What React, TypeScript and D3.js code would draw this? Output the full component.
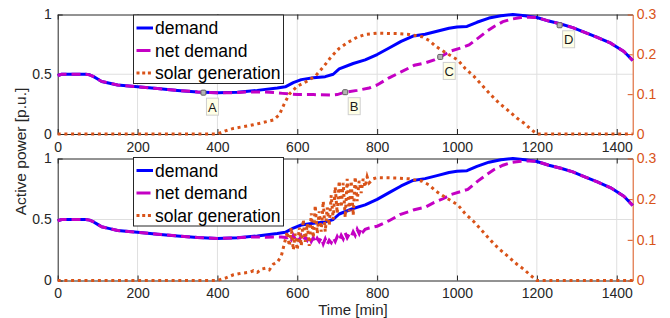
import React, { useRef, useEffect } from 'react';
import * as d3 from 'd3';

const WIDTH = 670;
const HEIGHT = 318;

const BLUE = '#0000FF';
const MAGENTA = '#C400C4';
const ORANGE = '#D95319';
const AXIS_COLOR = '#262626';
const GRID_COLOR = '#DFDFDF';
const FONT = "'Liberation Sans', Arial, Helvetica, sans-serif";

// demand (p.u.), identical in both panels
const demandTime = [0, 10, 20, 70, 80, 90, 100, 110, 130, 150, 200, 250, 300, 350, 400, 450, 500, 550, 570, 590, 610, 640, 670, 690, 705, 740, 770, 800, 830, 860, 890, 920, 950, 980, 1000, 1025, 1050, 1080, 1110, 1140, 1170, 1200, 1230, 1260, 1290, 1320, 1350, 1385, 1418, 1440];
const demandValue = [0.49, 0.5, 0.5, 0.5, 0.495, 0.48, 0.46, 0.44, 0.425, 0.41, 0.395, 0.38, 0.365, 0.352, 0.345, 0.35, 0.365, 0.385, 0.395, 0.43, 0.455, 0.47, 0.48, 0.5, 0.545, 0.59, 0.62, 0.665, 0.72, 0.775, 0.82, 0.835, 0.86, 0.885, 0.895, 0.9, 0.935, 0.97, 0.99, 1.0, 0.99, 0.975, 0.945, 0.92, 0.89, 0.85, 0.81, 0.76, 0.69, 0.615];

// top panel: net demand and smooth solar
const netTopTime = [0, 10, 20, 70, 80, 90, 100, 110, 130, 150, 200, 250, 300, 350, 400, 440, 480, 530, 563, 600, 640, 685, 700, 720, 750, 780, 800, 830, 860, 893, 920, 943, 958, 985, 1010, 1030, 1052, 1075, 1093, 1115, 1135, 1160, 1180, 1200, 1230, 1260, 1290, 1320, 1350, 1385, 1418, 1440];
const netTopValue = [0.49, 0.5, 0.5, 0.5, 0.495, 0.48, 0.46, 0.44, 0.425, 0.41, 0.395, 0.38, 0.365, 0.352, 0.345, 0.345, 0.352, 0.35, 0.34, 0.33, 0.33, 0.326, 0.33, 0.35, 0.365, 0.385, 0.41, 0.47, 0.52, 0.575, 0.595, 0.62, 0.645, 0.695, 0.72, 0.745, 0.8, 0.86, 0.9, 0.94, 0.96, 0.975, 0.978, 0.975, 0.945, 0.92, 0.89, 0.85, 0.81, 0.76, 0.69, 0.615];

const solarTopTime = [0, 400, 420, 440, 490, 540, 555, 567, 580, 600, 620, 645, 665, 685, 705, 727, 750, 770, 800, 850, 880, 913, 930, 947, 970, 1002, 1020, 1043, 1065, 1085, 1105, 1127, 1150, 1168, 1185, 1200, 1440];
const solarTopValue = [0, 0, 0.008, 0.014, 0.023, 0.035, 0.048, 0.075, 0.1, 0.12, 0.13, 0.145, 0.168, 0.194, 0.215, 0.23, 0.243, 0.25, 0.253, 0.252, 0.25, 0.244, 0.235, 0.22, 0.205, 0.186, 0.165, 0.144, 0.12, 0.098, 0.078, 0.06, 0.04, 0.027, 0.012, 0, 0];

// bottom panel: fluctuating solar around midday
const netBotTime = [0, 10, 20, 70, 80, 90, 100, 110, 130, 150, 200, 250, 300, 350, 400, 450, 480, 520, 560, 575, 580, 585, 590, 595, 600, 605, 610, 615, 620, 625, 630, 635, 640, 645, 650, 655, 660, 665, 670, 675, 680, 685, 690, 695, 700, 705, 710, 715, 720, 725, 730, 735, 740, 745, 750, 755, 760, 765, 770, 780, 800, 830, 857, 893, 920, 943, 965, 985, 1010, 1027, 1052, 1075, 1093, 1115, 1135, 1160, 1180, 1200, 1230, 1260, 1290, 1320, 1350, 1385, 1418, 1440];
const netBotValue = [0.49, 0.5, 0.5, 0.5, 0.495, 0.48, 0.46, 0.44, 0.425, 0.41, 0.395, 0.38, 0.365, 0.352, 0.345, 0.35, 0.357, 0.355, 0.357, 0.35, 0.36, 0.335, 0.37, 0.34, 0.36, 0.33, 0.365, 0.325, 0.355, 0.33, 0.36, 0.32, 0.35, 0.31, 0.345, 0.32, 0.35, 0.3, 0.34, 0.295, 0.33, 0.31, 0.35, 0.32, 0.36, 0.33, 0.37, 0.34, 0.39, 0.35, 0.38, 0.36, 0.4, 0.37, 0.42, 0.385, 0.43, 0.4, 0.42, 0.43, 0.445, 0.49, 0.54, 0.58, 0.6, 0.64, 0.67, 0.705, 0.73, 0.747, 0.815, 0.87, 0.91, 0.945, 0.967, 0.978, 0.98, 0.977, 0.945, 0.92, 0.89, 0.85, 0.81, 0.76, 0.69, 0.615];

const solarBotTime = [0, 400, 420, 440, 460, 480, 490, 500, 510, 520, 530, 540, 550, 560, 570, 575, 580, 585, 590, 595, 600, 605, 610, 615, 620, 625, 630, 635, 640, 645, 650, 655, 660, 665, 670, 675, 680, 685, 690, 695, 700, 705, 710, 715, 720, 725, 730, 735, 740, 745, 750, 755, 760, 765, 770, 775, 780, 790, 800, 850, 880, 913, 930, 947, 970, 1002, 1020, 1043, 1065, 1085, 1105, 1127, 1150, 1168, 1185, 1200, 1440];
const solarBotValue = [0, 0, 0.006, 0.014, 0.018, 0.02, 0.024, 0.02, 0.028, 0.03, 0.026, 0.04, 0.045, 0.06, 0.1, 0.12, 0.085, 0.13, 0.075, 0.115, 0.075, 0.13, 0.085, 0.15, 0.095, 0.14, 0.085, 0.165, 0.105, 0.185, 0.115, 0.17, 0.12, 0.195, 0.12, 0.18, 0.135, 0.21, 0.15, 0.23, 0.165, 0.245, 0.18, 0.24, 0.155, 0.25, 0.17, 0.245, 0.16, 0.255, 0.195, 0.245, 0.215, 0.25, 0.23, 0.255, 0.24, 0.25, 0.253, 0.252, 0.25, 0.244, 0.235, 0.22, 0.205, 0.186, 0.165, 0.144, 0.12, 0.098, 0.078, 0.06, 0.04, 0.027, 0.012, 0, 0];

const X_TICKS = [0, 200, 400, 600, 800, 1000, 1200, 1400];
const LEFT_TICKS = [0, 0.5, 1];
const RIGHT_TICKS = [0, 0.1, 0.2, 0.3];
const LEGEND_LABELS = ['demand', 'net demand', 'solar generation'];

// data tips in top panel
const TIP_LABELS = ['A', 'B', 'C', 'D'];
const TIP_TIME = [365, 720, 958, 1257];
const TIP_VALUE = [0.346, 0.35, 0.645, 0.91];

interface Panel {
  top: number;
  bottom: number;
  legendTop: number;
  netTime: number[];
  netValue: number[];
  solarTime: number[];
  solarValue: number[];
  tips: boolean;
}

const panels: Panel[] = [
  { top: 14.5, bottom: 134, legendTop: 15, netTime: netTopTime, netValue: netTopValue, solarTime: solarTopTime, solarValue: solarTopValue, tips: true },
  { top: 158.5, bottom: 280.5, legendTop: 157.5, netTime: netBotTime, netValue: netBotValue, solarTime: solarBotTime, solarValue: solarBotValue, tips: false }
];

const App: React.FC = () => {
  const svgRef = useRef<SVGSVGElement>(null);

  useEffect(() => {
    if (!svgRef.current) return;
    const svg = d3.select(svgRef.current);
    svg.selectAll('*').remove();

    const xScale = d3.scaleLinear().domain([0, 1440]).range([57.7, 632.7]);

    panels.forEach(p => {
      const y = d3.scaleLinear().domain([0, 1]).range([p.bottom, p.top]);
      const yR = d3.scaleLinear().domain([0, 0.3]).range([p.bottom, p.top]);
      const g = svg.append('g');

      // grid
      X_TICKS.slice(1).forEach(t => {
        g.append('line')
          .attr('x1', xScale(t)).attr('x2', xScale(t))
          .attr('y1', p.top).attr('y2', p.bottom)
          .attr('stroke', GRID_COLOR).attr('stroke-width', 1);
      });
      g.append('line')
        .attr('x1', xScale.range()[0]).attr('x2', xScale.range()[1])
        .attr('y1', y(0.5)).attr('y2', y(0.5))
        .attr('stroke', GRID_COLOR).attr('stroke-width', 1);

      const styleAxis = (sel: d3.Selection<SVGGElement, unknown, null, undefined>, color: string, labelColor: string) => {
        sel.attr('font-family', FONT).attr('font-size', 14);
        sel.select('.domain').attr('stroke', color);
        sel.selectAll('.tick line').attr('stroke', color);
        sel.selectAll('.tick text').attr('fill', labelColor);
      };

      // axes
      g.append('g')
        .attr('transform', `translate(0, ${p.bottom})`)
        .call(d3.axisBottom(xScale).tickValues(X_TICKS).tickSizeInner(-5).tickSizeOuter(0).tickPadding(8).tickFormat(d3.format('d')))
        .call(s => styleAxis(s, AXIS_COLOR, AXIS_COLOR));
      g.append('g')
        .attr('transform', `translate(0, ${p.top})`)
        .call(d3.axisTop(xScale).tickValues(X_TICKS).tickSizeInner(-5).tickSizeOuter(0).tickFormat(() => ''))
        .call(s => styleAxis(s, AXIS_COLOR, AXIS_COLOR));
      g.append('g')
        .attr('transform', `translate(${xScale.range()[0]}, 0)`)
        .call(d3.axisLeft(y).tickValues(LEFT_TICKS).tickSizeInner(-5).tickSizeOuter(0).tickPadding(6).tickFormat(d3.format('')))
        .call(s => styleAxis(s, AXIS_COLOR, AXIS_COLOR));
      g.append('g')
        .attr('transform', `translate(${xScale.range()[1]}, 0)`)
        .call(d3.axisRight(yR).tickValues(RIGHT_TICKS).tickSizeInner(-5).tickSizeOuter(0).tickPadding(4).tickFormat(d3.format('')))
        .call(s => styleAxis(s, ORANGE, ORANGE));

      // series
      const demandLine = d3.line<number>().x((_, i) => xScale(demandTime[i])).y(d => y(d));
      const netLine = d3.line<number>().x((_, i) => xScale(p.netTime[i])).y(d => y(d));
      const solarLine = d3.line<number>().x((_, i) => xScale(p.solarTime[i])).y(d => yR(d));

      g.append('path')
        .datum(demandValue)
        .attr('fill', 'none').attr('stroke', BLUE).attr('stroke-width', 3)
        .attr('stroke-linejoin', 'round')
        .attr('d', demandLine);
      g.append('path')
        .datum(p.netValue)
        .attr('fill', 'none').attr('stroke', MAGENTA).attr('stroke-width', 3)
        .attr('stroke-dasharray', '9,5')
        .attr('d', netLine);
      g.append('path')
        .datum(p.solarValue)
        .attr('fill', 'none').attr('stroke', ORANGE).attr('stroke-width', 3)
        .attr('stroke-dasharray', '3,3.7')
        .attr('d', solarLine);

      // data tips
      if (p.tips) {
        TIP_LABELS.forEach((lab, i) => {
          const cx = xScale(TIP_TIME[i]);
          const cy = y(TIP_VALUE[i]);
          g.append('rect')
            .attr('x', cx + 3).attr('y', cy + 5.5)
            .attr('width', 12).attr('height', 17)
            .attr('fill', '#FFFFE6').attr('stroke', '#CFCFCF').attr('stroke-width', 1);
          g.append('text')
            .attr('x', cx + 9).attr('y', cy + 19)
            .attr('text-anchor', 'middle')
            .attr('font-family', FONT).attr('font-size', 13)
            .attr('fill', '#1A1A1A')
            .text(lab);
          g.append('rect')
            .attr('x', cx - 2.5).attr('y', cy - 2.5)
            .attr('width', 5).attr('height', 5)
            .attr('rx', 1)
            .attr('fill', '#B4B4B4').attr('stroke', '#606060').attr('stroke-width', 1);
        });
      }

      // legend
      const lg = g.append('g').attr('transform', `translate(133.5, ${p.legendTop})`);
      lg.append('rect')
        .attr('width', 150).attr('height', 68.5)
        .attr('fill', '#FFFFFF').attr('stroke', AXIS_COLOR).attr('stroke-width', 1);
      const rows = [13, 35.5, 58];
      const styles = [
        { color: BLUE, dash: null },
        { color: MAGENTA, dash: '14,10' },
        { color: ORANGE, dash: '3,2.7' }
      ];
      LEGEND_LABELS.forEach((lab, i) => {
        lg.append('line')
          .attr('x1', 3).attr('x2', 19.5)
          .attr('y1', rows[i]).attr('y2', rows[i])
          .attr('stroke', styles[i].color).attr('stroke-width', 3)
          .attr('stroke-dasharray', styles[i].dash);
        lg.append('text')
          .attr('x', 21.5).attr('y', rows[i])
          .attr('dy', '0.35em')
          .attr('font-family', FONT).attr('font-size', 17.5)
          .attr('fill', '#000000')
          .text(lab);
      });
    });

    // axis titles
    svg.append('text')
      .attr('transform', 'translate(26, 151.5) rotate(-90)')
      .attr('text-anchor', 'middle')
      .attr('font-family', FONT).attr('font-size', 15.5)
      .attr('fill', AXIS_COLOR)
      .text('Active power [p.u.]');
    svg.append('text')
      .attr('x', 353).attr('y', 314.5)
      .attr('text-anchor', 'middle')
      .attr('font-family', FONT).attr('font-size', 15)
      .attr('fill', AXIS_COLOR)
      .text('Time [min]');
  }, []);

  return (
    <svg
      ref={svgRef}
      width={WIDTH}
      height={HEIGHT}
      style={{ position: 'absolute', left: 0, top: 0, background: '#FFFFFF' }}
    />
  );
};

export default App;
